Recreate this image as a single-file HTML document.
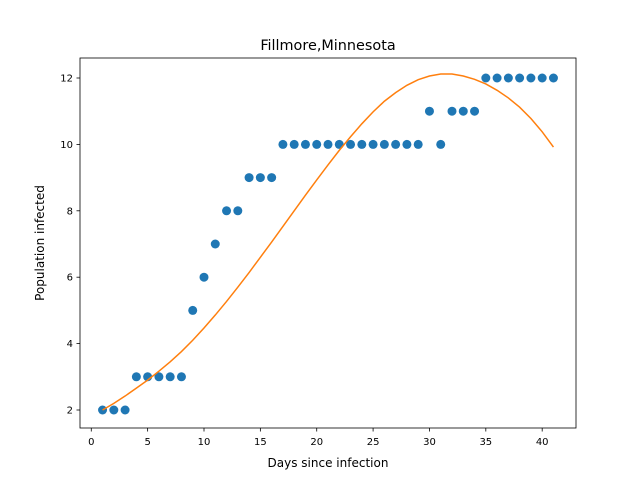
<!DOCTYPE html>
<html><head><meta charset="utf-8"><style>
body{margin:0;background:#fff;}
svg text{font-family:"DejaVu Sans","Liberation Sans",sans-serif;fill:#000;}
</style></head><body>
<svg id="chart" width="640" height="480">
<rect width="640" height="480" fill="#fff"/>
<text x="328" y="50" font-size="14.4" text-anchor="middle">Fillmore,Minnesota</text>
<g id="plot"></g>
<rect x="80" y="58" width="496" height="370" fill="none" stroke="#000" stroke-width="0.8"/>
<text x="328" y="467" font-size="12" text-anchor="middle">Days since infection</text>
<text transform="translate(44,243) rotate(-90)" font-size="12" text-anchor="middle">Population infected</text>
</svg>
<script>
const days=[1,2,3,4,5,6,7,8,9,10,11,12,13,14,15,16,17,18,19,20,21,22,23,24,25,26,27,28,29,30,31,32,33,34,35,36,37,38,39,40,41];
const infected=[2,2,2,3,3,3,3,3,5,6,7,8,8,9,9,9,10,10,10,10,10,10,10,10,10,10,10,10,10,11,10,11,11,11,12,12,12,12,12,12,12];
const fitDays=[1,2,3,4,5,6,7,8,9,10,11,12,13,14,15,16,17,18,19,20,21,22,23,24,25,26,27,28,29,30,31,32,33,34,35,36,37,38,39,40,41];
const fitValues=[2.0,2.2,2.42,2.66,2.9,3.17,3.45,3.76,4.1,4.47,4.86,5.27,5.7,6.14,6.6,7.06,7.53,8.0,8.47,8.93,9.38,9.82,10.23,10.62,10.98,11.3,11.56,11.78,11.95,12.06,12.12,12.12,12.06,11.96,11.82,11.63,11.4,11.12,10.78,10.38,9.92];
const xTicks=[0,5,10,15,20,25,30,35,40];
const yTicks=[2,4,6,8,10,12];
const X=v=>80+(v+1)/44*496;
const Y=v=>410-(v-2)*33.2;
const g=document.getElementById('plot');
const ns='http://www.w3.org/2000/svg';
function mk(t,a){const e=document.createElementNS(ns,t);for(const k in a)e.setAttribute(k,a[k]);g.appendChild(e);return e;}
xTicks.forEach(v=>{
 const l=mk('line',{x1:X(v),x2:X(v),y1:428,y2:431.5,stroke:'#000','stroke-width':0.8});
 
 
 const t=mk('text',{x:X(v),y:445,'font-size':10,'text-anchor':'middle'});t.textContent=v;
 
 
});
yTicks.forEach(v=>{
 const l=mk('line',{x1:76.5,x2:80,y1:Y(v),y2:Y(v),stroke:'#000','stroke-width':0.8});
 
 
 const t=mk('text',{x:73,y:Y(v)+3.5,'font-size':10,'text-anchor':'end'});t.textContent=v;
 
 
});
days.forEach((d,i)=>{
 const c=mk('circle',{cx:X(d),cy:Y(infected[i]),r:4.5,fill:'#1f77b4'});
 
 
});
const p=mk('polyline',{points:fitDays.map((d,i)=>X(d)+','+Y(fitValues[i])).join(' '),fill:'none',stroke:'#ff7f0e','stroke-width':1.5});


</script>
</body></html>
